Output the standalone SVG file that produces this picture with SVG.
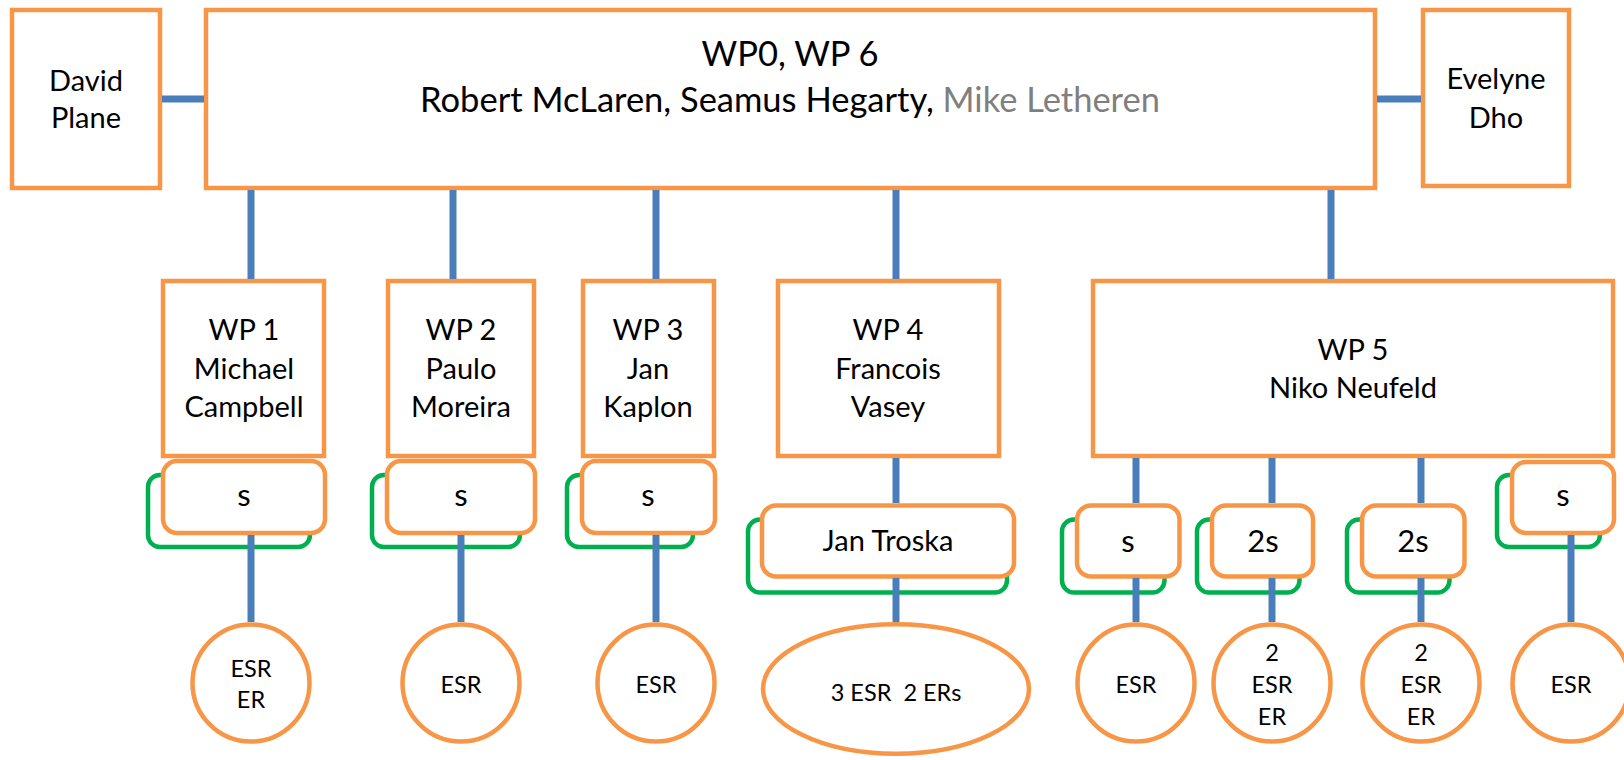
<svg xmlns="http://www.w3.org/2000/svg" width="1624" height="760" viewBox="0 0 1624 760">
<style>
.box{fill:#fff;stroke:#F79646;stroke-width:4.5}
.grn{fill:none;stroke:#00B050;stroke-width:4.5}
.t{font-family:Lato,"Open Sans","Liberation Sans",sans-serif;font-size:29px;fill:#000;text-anchor:middle}
.m{font-size:34.5px}
.s{font-size:31px}
.c{font-family:Lato,"Open Sans","Liberation Sans",sans-serif;font-size:23.5px;fill:#000;text-anchor:middle}
.con line{stroke:#4A7EBB;stroke-width:7}
</style>
<rect width="1624" height="760" fill="#fff"/>
<g id="david"><rect class="box" x="12" y="10" width="148" height="178"/><text class="t" x="86" y="91">David</text><text class="t" x="86" y="128">Plane</text></g>
<g id="wp0"><rect class="box" x="206" y="10" width="1169" height="178"/><text class="t m" x="790" y="66">WP0, WP 6</text><text class="t m" x="790" y="112">Robert McLaren, Seamus Hegarty, <tspan fill="#7F7F7F">Mike Letheren</tspan></text></g>
<g id="evelyne"><rect class="box" x="1423" y="10" width="146" height="176"/><text class="t" x="1496" y="89">Evelyne</text><text class="t" x="1496" y="128">Dho</text></g>
<g id="wp1"><rect class="box" x="163" y="281" width="161" height="175"/><text class="t" x="244" y="340">WP 1</text><text class="t" x="244" y="379">Michael</text><text class="t" x="244" y="417">Campbell</text></g>
<g id="wp2"><rect class="box" x="388" y="281" width="146" height="175"/><text class="t" x="461" y="340">WP 2</text><text class="t" x="461" y="379">Paulo</text><text class="t" x="461" y="417">Moreira</text></g>
<g id="wp3"><rect class="box" x="583" y="281" width="131" height="175"/><text class="t" x="648" y="340">WP 3</text><text class="t" x="648" y="379">Jan</text><text class="t" x="648" y="417">Kaplon</text></g>
<g id="wp4"><rect class="box" x="778" y="281" width="221" height="175"/><text class="t" x="888" y="340">WP 4</text><text class="t" x="888" y="379">Francois</text><text class="t" x="888" y="417">Vasey</text></g>
<g id="wp5"><rect class="box" x="1093" y="281" width="520" height="175"/><text class="t" x="1353" y="360">WP 5</text><text class="t" x="1353" y="398">Niko Neufeld</text></g>
<g id="s1"><rect class="grn" x="148" y="475" width="162" height="72" rx="12"/><rect class="box" x="163" y="461" width="162" height="72" rx="14"/><text class="t s" x="244" y="506">s</text></g>
<g id="s2"><rect class="grn" x="372" y="475" width="148" height="72" rx="12"/><rect class="box" x="387" y="461" width="148" height="72" rx="14"/><text class="t s" x="461" y="506">s</text></g>
<g id="s3"><rect class="grn" x="567" y="475" width="126" height="72" rx="12"/><rect class="box" x="582" y="461" width="133" height="72" rx="14"/><text class="t s" x="648" y="506">s</text></g>
<g id="troska"><rect class="grn" x="748" y="519.5" width="259" height="73" rx="12"/><rect class="box" x="762" y="505.5" width="252" height="71" rx="14"/><text class="t" x="888" y="551">Jan Troska</text></g>
<g id="s51"><rect class="grn" x="1062" y="519.5" width="102.5" height="73" rx="12"/><rect class="box" x="1077" y="505.5" width="102.5" height="71" rx="14"/><text class="t s" x="1128" y="552">s</text></g>
<g id="s52"><rect class="grn" x="1197" y="519.5" width="102.5" height="73" rx="12"/><rect class="box" x="1212" y="505.5" width="101" height="71" rx="14"/><text class="t s" x="1263" y="552">2s</text></g>
<g id="s53"><rect class="grn" x="1347" y="519.5" width="102.5" height="73" rx="12"/><rect class="box" x="1362" y="505.5" width="102.5" height="71" rx="14"/><text class="t s" x="1413" y="552">2s</text></g>
<g id="s54"><rect class="grn" x="1497" y="475" width="103" height="72" rx="12"/><rect class="box" x="1512" y="462" width="102" height="71" rx="14"/><text class="t s" x="1563" y="506">s</text></g>
<g class="con" id="connectors">
<line x1="162" y1="99" x2="204" y2="99"/>
<line x1="1377" y1="99" x2="1421" y2="99"/>
<line x1="251" y1="190" x2="251" y2="279"/>
<line x1="453" y1="190" x2="453" y2="279"/>
<line x1="656" y1="190" x2="656" y2="279"/>
<line x1="896" y1="190" x2="896" y2="279"/>
<line x1="1331" y1="190" x2="1331" y2="279"/>
<line x1="896" y1="458" x2="896" y2="503"/>
<line x1="1136" y1="458" x2="1136" y2="503"/>
<line x1="1272" y1="458" x2="1272" y2="503"/>
<line x1="1421" y1="458" x2="1421" y2="503"/>
<line x1="251" y1="535" x2="251" y2="622"/>
<line x1="461" y1="535" x2="461" y2="622"/>
<line x1="656" y1="535" x2="656" y2="622"/>
<line x1="896" y1="578" x2="896" y2="622"/>
<line x1="1136" y1="578" x2="1136" y2="622"/>
<line x1="1272" y1="578" x2="1272" y2="622"/>
<line x1="1421" y1="578" x2="1421" y2="622"/>
<line x1="1571" y1="535" x2="1571" y2="622"/>
</g>
<g id="c1"><circle class="box" cx="251" cy="683" r="58.5"/><text class="c" x="251" y="677">ESR</text><text class="c" x="251" y="708">ER</text></g>
<g id="c2"><circle class="box" cx="461" cy="683" r="58.5"/><text class="c" x="461" y="693">ESR</text></g>
<g id="c3"><circle class="box" cx="656" cy="683" r="58.5"/><text class="c" x="656" y="693">ESR</text></g>
<g id="c4"><ellipse class="box" cx="896" cy="689" rx="133" ry="64.7"/><text class="c" x="896" y="701" xml:space="preserve">3 ESR  2 ERs</text></g>
<g id="c5"><circle class="box" cx="1136" cy="683" r="58.5"/><text class="c" x="1136" y="693">ESR</text></g>
<g id="c6"><circle class="box" cx="1272" cy="683" r="58.5"/><text class="c" x="1272" y="661">2</text><text class="c" x="1272" y="693">ESR</text><text class="c" x="1272" y="725">ER</text></g>
<g id="c7"><circle class="box" cx="1421" cy="683" r="58.5"/><text class="c" x="1421" y="661">2</text><text class="c" x="1421" y="693">ESR</text><text class="c" x="1421" y="725">ER</text></g>
<g id="c8"><circle class="box" cx="1571" cy="683" r="58.5"/><text class="c" x="1571" y="693">ESR</text></g>
</svg>
